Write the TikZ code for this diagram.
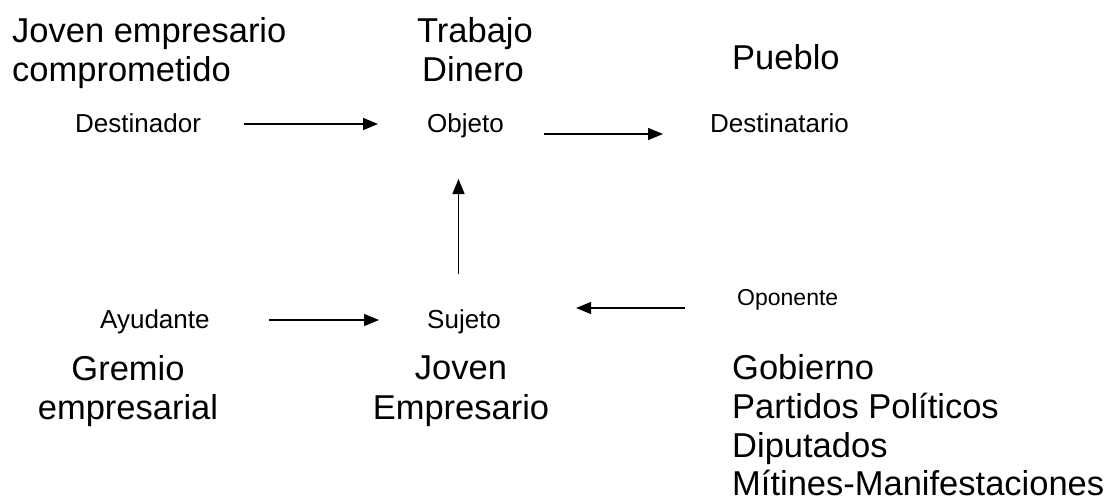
\documentclass[tikz,border=0pt]{standalone}
\usepackage{fontspec}
\setmainfont{Liberation Sans}
\usetikzlibrary{arrows.meta}
\begin{document}
\begin{tikzpicture}[x=1pt,y=-1pt,
  big/.style={inner sep=0pt,font=\fontsize{34.5}{39}\selectfont},
  small/.style={inner sep=0pt,font=\fontsize{26}{30}\selectfont},
  smaller/.style={inner sep=0pt,font=\fontsize{23}{27}\selectfont},
  arr/.style={line width=1.5pt,-{Triangle[length=15pt,width=12pt]}}]
\useasboundingbox (0,0) rectangle (1108,499);
% top big texts
\node[big,anchor=base west] (je1) at (12,42) {Joven empresario};
\node[big,anchor=base west] (je2) at (12,81) {comprometido};
\node[big,anchor=base] (tr) at (475,42) {Trabajo};
\node[big,anchor=base] (di) at (473,81) {Dinero};
\node[big,anchor=base west] (pu) at (732,69) {Pueblo};
% actants row 1
\node[small,anchor=base west] (dest) at (75,132) {Destinador};
\node[small,anchor=base west] (obj) at (427,132) {Objeto};
\node[small,anchor=base west] (dtar) at (710,132) {Destinatario};
% actants row 2
\node[small,anchor=base west] (ayu) at (100,328) {Ayudante};
\node[small,anchor=base west] (suj) at (427,328) {Sujeto};
\node[smaller,anchor=base west] (opo) at (737,305) {Oponente};
% bottom big texts
\node[big,anchor=base] (gr1) at (128,380) {Gremio};
\node[big,anchor=base] (gr2) at (128,419) {empresarial};
\node[big,anchor=base] (jv1) at (461,379) {Joven};
\node[big,anchor=base] (jv2) at (461,419) {Empresario};
\node[big,anchor=base west] (go1) at (732,379) {Gobierno};
\node[big,anchor=base west] (go2) at (732,418) {Partidos Políticos};
\node[big,anchor=base west] (go3) at (732,457) {Diputados};
\node[big,anchor=base west] (go4) at (732,495) {Mítines-Manifestaciones};
% arrows
\coordinate (vx) at ([xshift=-7pt]obj.base);
\draw[arr] ([xshift=43pt,yshift=8pt]dest.base east) -- ([xshift=-49pt,yshift=8pt]obj.base west);
\draw[arr] ([xshift=40pt,yshift=-2pt]obj.base east) -- ([xshift=-47pt,yshift=-2pt]dtar.base west);
\draw[arr] ([yshift=54pt]suj.base -| vx) -- ([yshift=-47pt]vx);
\draw[arr] ([xshift=59pt,yshift=8pt]ayu.base east) -- ([xshift=-48pt,yshift=8pt]suj.base west);
\draw[arr] ([xshift=-52pt,yshift=-3pt]opo.base west) -- ([xshift=75pt,yshift=20pt]suj.base east);
\end{tikzpicture}
\end{document}
